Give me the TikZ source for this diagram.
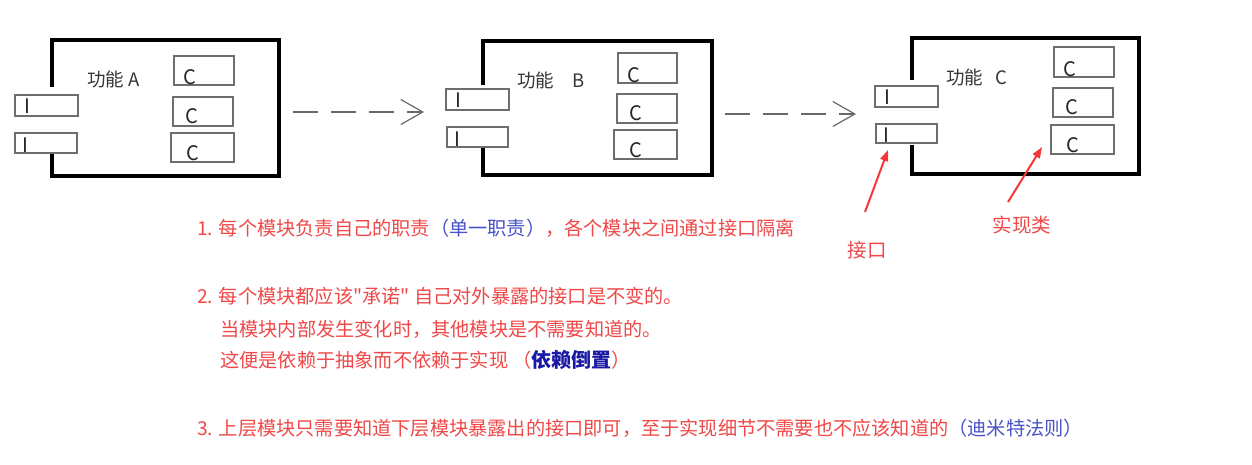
\documentclass[tikz,border=0pt]{standalone}
\usepackage{fontspec}
\newfontfamily\cjk{Noto Sans CJK SC}
\usetikzlibrary{arrows.meta,fit}
\definecolor{tred}{RGB}{240,72,72}
\definecolor{tblue}{RGB}{72,82,200}
\definecolor{dblue}{RGB}{25,25,165}
\definecolor{agray}{RGB}{105,105,105}
\definecolor{bgray}{RGB}{110,110,110}
\definecolor{lgray}{RGB}{55,55,55}
\definecolor{ared}{RGB}{245,55,55}
\newcommand{\bx}[5]{\node[boxst, fit={(#2,#3) (#4,#5)}] (#1) {};}
\begin{document}
\begin{tikzpicture}[x=1pt,y=-1pt,
  frame/.style={line width=4pt, line join=miter, black},
  boxst/.style={draw=bgray, line width=1.2pt, inner sep=0pt, fill=white},
  glyph/.style={font={\cjk\fontsize{20}{20}\selectfont}, text=black!85, inner sep=0pt, anchor=base west},
  title/.style={font={\cjk\fontsize{18.5}{18.5}\selectfont}, text=lgray, inner sep=0pt, anchor=base west},
  note/.style={font={\cjk\fontsize{19.2}{19.2}\selectfont}, text=tred, inner sep=0pt, anchor=base west},
  flow/.style={agray, line width=1.2pt, dash pattern=on 25pt off 13pt, -{Straight Barb[length=22pt,width=25pt,line width=1.2pt]}},
  callout/.style={ared, line width=2pt, -{Triangle[length=11pt,width=8pt]}},
]
\fill[white] (0,0) rectangle (1252,464);
\useasboundingbox (0,0) rectangle (1252,464);

% ---------- frames ----------
\draw[frame] (52,87) -- (52,40) -- (279,40) -- (279,176) -- (52,176) -- (52,153);
\draw[frame] (483,85) -- (483,41) -- (712,41) -- (712,175) -- (483,175) -- (483,148);
\draw[frame] (912,80) -- (912,38) -- (1139,38) -- (1139,174) -- (912,174) -- (912,145);

% ---------- module A ----------
\bx{ai1}{15}{95}{78}{116}
\bx{ai2}{15}{133}{77}{153}
\bx{ac1}{174}{56}{234}{85}
\bx{ac2}{173}{97}{233}{126}
\bx{ac3}{171}{133}{234}{162}
\node[title] (at) at (87,86) {功能 A};

% ---------- module B ----------
\bx{bi1}{446}{89}{509}{110}
\bx{bi2}{447}{127}{508}{147}
\bx{bc1}{618}{53}{677}{83}
\bx{bc2}{617}{94}{677}{123}
\bx{bc3}{614}{130}{677}{159}
\node[title] (bt) at (517,87) {功能\hspace{18pt}B};

% ---------- module C ----------
\bx{ci1}{875}{86}{938}{107}
\bx{ci2}{876}{124}{937}{143}
\bx{cc1}{1054}{47}{1114}{77}
\bx{cc2}{1053}{88}{1113}{117}
\bx{cc3}{1051}{125}{1114}{154}
\node[title] (ct) at (946,84) {功能\hspace{12pt}C};

% ---------- I / C glyphs ----------
\foreach \m in {a,b,c}{
  \node[glyph] at ([xshift=10pt,yshift=3pt]\m i1.south west) {I};
  \node[glyph] at ([xshift=8pt,yshift=1pt]\m i2.south west) {I};
  \node[glyph] at ([xshift=10pt,yshift=1pt]\m c1.south west) {C};
  \node[glyph] at ([xshift=13pt,yshift=3pt]\m c2.south west) {C};
  \node[glyph] at ([xshift=16pt,yshift=2pt]\m c3.south west) {C};
}

% ---------- flow arrows ----------
\coordinate (ab1) at (293,112);
\coordinate (ab2) at (424,112);
\coordinate (bc1s) at (725,114);
\coordinate (bc2e) at (856,114);
\draw[flow] (ab1) -- (ab2);
\draw[flow] (bc1s) -- (bc2e);

% ---------- callouts ----------
\node[note, anchor=center, font={\cjk\fontsize{19.5}{19.5}\selectfont}] (lbi) at (867,250) {接口};
\node[note, anchor=center, font={\cjk\fontsize{19.5}{19.5}\selectfont}] (lbc) at (1022,225) {实现类};
\coordinate (ci2tip) at (888,150);
\coordinate (cc3tip) at (1042,147);
\coordinate (lbis) at (865,212);
\coordinate (lbcs) at (1008,202);
\draw[callout] (lbis) -- (ci2tip);
\draw[callout] (lbcs) -- (cc3tip);

% ---------- notes ----------
\node[note] (n1) at (197,235) {1. 每个模块负责自己的职责{\color{tblue}（单一职责）}，各个模块之间通过接口隔离};
\node[note] (n2) at (197,303) {2. 每个模块都应该"承诺" 自己对外暴露的接口是不变的。};
\node[note] (n3) at (220,336) {当模块内部发生变化时，其他模块是不需要知道的。};
\node[note] (n4) at (220,367) {这便是依赖于抽象而不依赖于实现\hspace{4pt}（{\color{dblue}\bfseries\fontsize{20}{20}\selectfont 依赖倒置}）};
\node[note] (n5) at (197,435) {3. 上层模块只需要知道下层模块暴露出的接口即可，至于实现细节不需要也不应该知道的{\color{tblue}（迪米特法则）}};
\end{tikzpicture}
\end{document}
